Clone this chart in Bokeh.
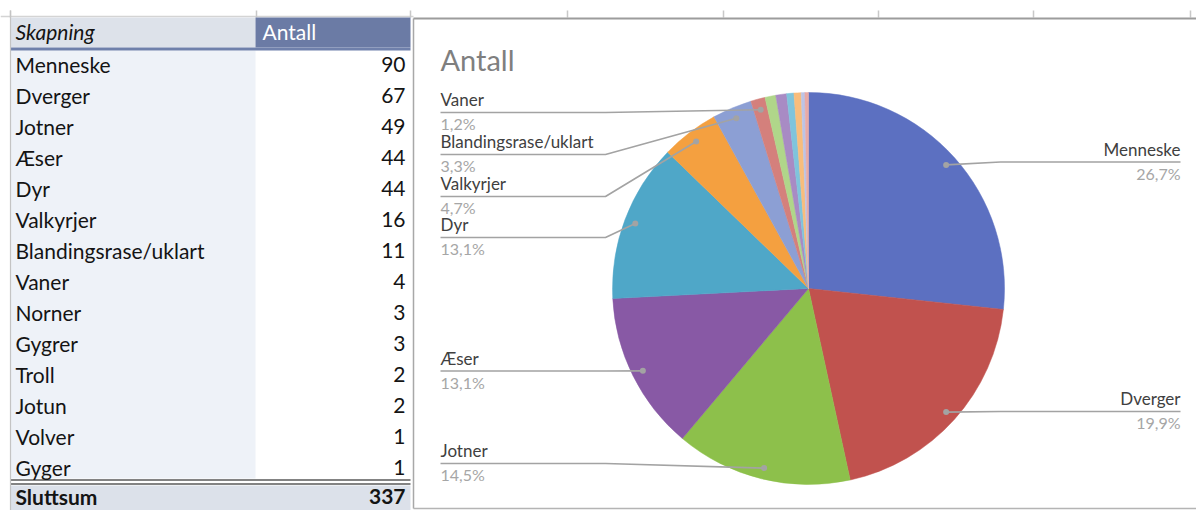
import math
from bokeh.plotting import figure
from bokeh.models import Range1d, ColumnDataSource
from bokeh.core.properties import value
from bokeh.embed import file_html
from bokeh.resources import INLINE

# ---------------- data ----------------
categories = ["Menneske", "Dverger", "Jotner", "Æser", "Dyr", "Valkyrjer",
              "Blandingsrase/uklart", "Vaner", "Norner", "Gygrer", "Troll",
              "Jotun", "Volver", "Gyger"]
counts = [90, 67, 49, 44, 44, 16, 11, 4, 3, 3, 2, 2, 1, 1]
header_labels = ["Skapning", "Antall"]
total_label = "Sluttsum"
chart_title = "Antall"
labelled = ["Menneske", "Dverger", "Jotner", "Æser", "Dyr", "Valkyrjer",
            "Blandingsrase/uklart", "Vaner"]

# ---------------- styles / layout ----------------
W, H = 1196, 510
colors = ["#5c70c1", "#c1524e", "#8dc04b", "#8859a5", "#4fa7c8", "#f4a040",
          "#8c9fd4", "#d4807c", "#b0d68a", "#a88bc4", "#7fc4dc", "#f8bd7c",
          "#bcc4e6", "#e8aaa6"]
FONT = "Lato"
TXT = "#141414"
TSIZE = "21px"
LSIZE = "17px"


def Y(yp):
    return H - yp


p = figure(width=W, height=H, x_range=Range1d(0, W), y_range=Range1d(0, H),
           output_backend="svg", toolbar_location=None, min_border=0,
           background_fill_color="white", border_fill_color="white")
p.axis.visible = False
p.grid.visible = False
p.outline_line_color = None

# ---------------- spreadsheet grid ----------------
p.segment(x0=[0], y0=[Y(16)], x1=[413], y1=[Y(16)], line_color="#d4d4d4", line_width=1.5)
tick_x = [10, 256, 410, 567, 723, 878, 1033, 1190]
p.segment(x0=tick_x, y0=[Y(10)] * len(tick_x), x1=tick_x, y1=[Y(17)] * len(tick_x),
          line_color="#c8c8c8", line_width=1.5)

# ---------------- table ----------------
TL, TM, TR = 10, 255, 410
row0, rowh = 64.3, 30.95
n = len(categories)
p.quad(left=[TL], right=[TM], top=[Y(50)], bottom=[Y(478)], fill_color="#eef2f8", line_color=None)
p.quad(left=[TL], right=[TM], top=[Y(17)], bottom=[Y(47)], fill_color="#dde2ea", line_color=None)
p.quad(left=[TM], right=[TR], top=[Y(17)], bottom=[Y(47)], fill_color="#6b7ba5", line_color=None)
p.quad(left=[TL], right=[TR], top=[Y(47)], bottom=[Y(50)], fill_color="#6f80ab", line_color=None)
p.quad(left=[TL], right=[TR], top=[Y(485)], bottom=[Y(510)], fill_color="#dce1ea", line_color=None)
p.segment(x0=[TL, TL], y0=[Y(479.5), Y(483.5)], x1=[TR, TR], y1=[Y(479.5), Y(483.5)],
          line_color="#5a5a5a", line_width=1.3)
p.segment(x0=[TL], y0=[Y(10)], x1=[TL], y1=[Y(510)], line_color="#c4c4c4", line_width=1.2)

p.text(x=[15], y=[Y(30.5)], text=[header_labels[0]], text_font=value(FONT),
       text_font_style="italic", text_font_size=TSIZE, text_color=TXT,
       text_baseline="middle", text_align="left")
p.text(x=[262], y=[Y(30.5)], text=[header_labels[1]], text_font=value(FONT),
       text_font_size=TSIZE, text_color="white", text_baseline="middle", text_align="left")

rows = ColumnDataSource(dict(
    x=[15] * n, xr=[405] * n,
    y=[Y(row0 + rowh * i) for i in range(n)],
    name=categories, val=[str(v) for v in counts]))
p.text(x="x", y="y", text="name", source=rows, text_font=value(FONT),
       text_font_size=TSIZE, text_color=TXT, text_baseline="middle", text_align="left")
p.text(x="xr", y="y", text="val", source=rows, text_font=value(FONT),
       text_font_size=TSIZE, text_color=TXT, text_baseline="middle", text_align="right")
p.text(x=[15], y=[Y(496.3)], text=[total_label], text_font=value(FONT), text_font_style="bold",
       text_font_size=TSIZE, text_color=TXT, text_baseline="middle", text_align="left")
p.text(x=[405], y=[Y(496.3)], text=[str(sum(counts))], text_font=value(FONT), text_font_style="bold",
       text_font_size=TSIZE, text_color=TXT, text_baseline="middle", text_align="right")

# ---------------- chart frame ----------------
p.segment(x0=[413], y0=[Y(18)], x1=[413], y1=[Y(508)], line_color="#a8a8a8", line_width=1.5)
p.segment(x0=[413], y0=[Y(508)], x1=[1196], y1=[Y(508)], line_color="#b4b4b4", line_width=1.5)
p.segment(x0=[413], y0=[Y(18)], x1=[1196], y1=[Y(18)], line_color="#9c9c9c", line_width=2)

p.text(x=[440], y=[Y(59)], text=[chart_title], text_font=value(FONT), text_font_size="29px",
       text_color="#7f7f7f", text_baseline="middle", text_align="left")

# ---------------- pie ----------------
CX, CY, R = 808, 288, 196
total = sum(counts)
starts, ends, mids = [], [], []
cum = 0
for v in counts:
    a0 = math.pi / 2 - 2 * math.pi * cum / total
    cum += v
    a1 = math.pi / 2 - 2 * math.pi * cum / total
    starts.append(a1)
    ends.append(a0)
    mids.append((a0 + a1) / 2)
pie = ColumnDataSource(dict(start=starts, end=ends, color=colors))
p.wedge(x=CX, y=Y(CY), radius=R, start_angle="start", end_angle="end",
        fill_color="color", line_color="color", line_width=0.5, source=pie)

# ---------------- data labels ----------------
label_layout = {
    "Menneske": (161.5, "right"), "Dverger": (411, "right"),
    "Jotner": (463, "left"), "Æser": (370.5, "left"), "Dyr": (237, "left"),
    "Valkyrjer": (196, "left"), "Blandingsrase/uklart": (154, "left"),
    "Vaner": (112, "left"),
}
DOT_R = 185
lx, ly, dx, dy = [], [], [], []
nm_x, nm_y, nm_t, nm_a = [], [], [], []
pc_t = []
for name in labelled:
    i = categories.index(name)
    m = mids[i]
    px = CX + DOT_R * math.cos(m)
    py = CY - DOT_R * math.sin(m)
    line_y, side = label_layout[name]
    if side == "left":
        xs = [440, 605, px]
        tx = 440
    else:
        xs = [1180, 1000, px]
        tx = 1180
    lx.append(xs)
    ly.append([Y(line_y), Y(line_y), Y(py)])
    dx.append(px)
    dy.append(Y(py))
    nm_x.append(tx)
    nm_y.append(Y(line_y - 2.5))
    nm_t.append(name)
    nm_a.append(side)
    pc_t.append(f"{counts[i] / total * 100:.1f}".replace(".", ",") + "%")

p.multi_line(xs=lx, ys=ly, line_color="#a3a3a3", line_width=1.6)
p.scatter(x=dx, y=dy, size=6, fill_color="#a3a3a3", line_color=None)
lab = ColumnDataSource(dict(x=nm_x, y=nm_y, yp=[v - 4 for v in nm_y], name=nm_t,
                            pct=pc_t, align=nm_a))
p.text(x="x", y="y", text="name", source=lab, text_font=value(FONT), text_font_size=LSIZE,
       text_color="#404040", text_baseline="bottom", text_align="align")
p.text(x="x", y="yp", text="pct", source=lab, text_font=value(FONT), text_font_size="16px",
       text_color="#a6a6a6", text_baseline="top", text_align="align")

open("out.html", "w").write(file_html(p, INLINE))
